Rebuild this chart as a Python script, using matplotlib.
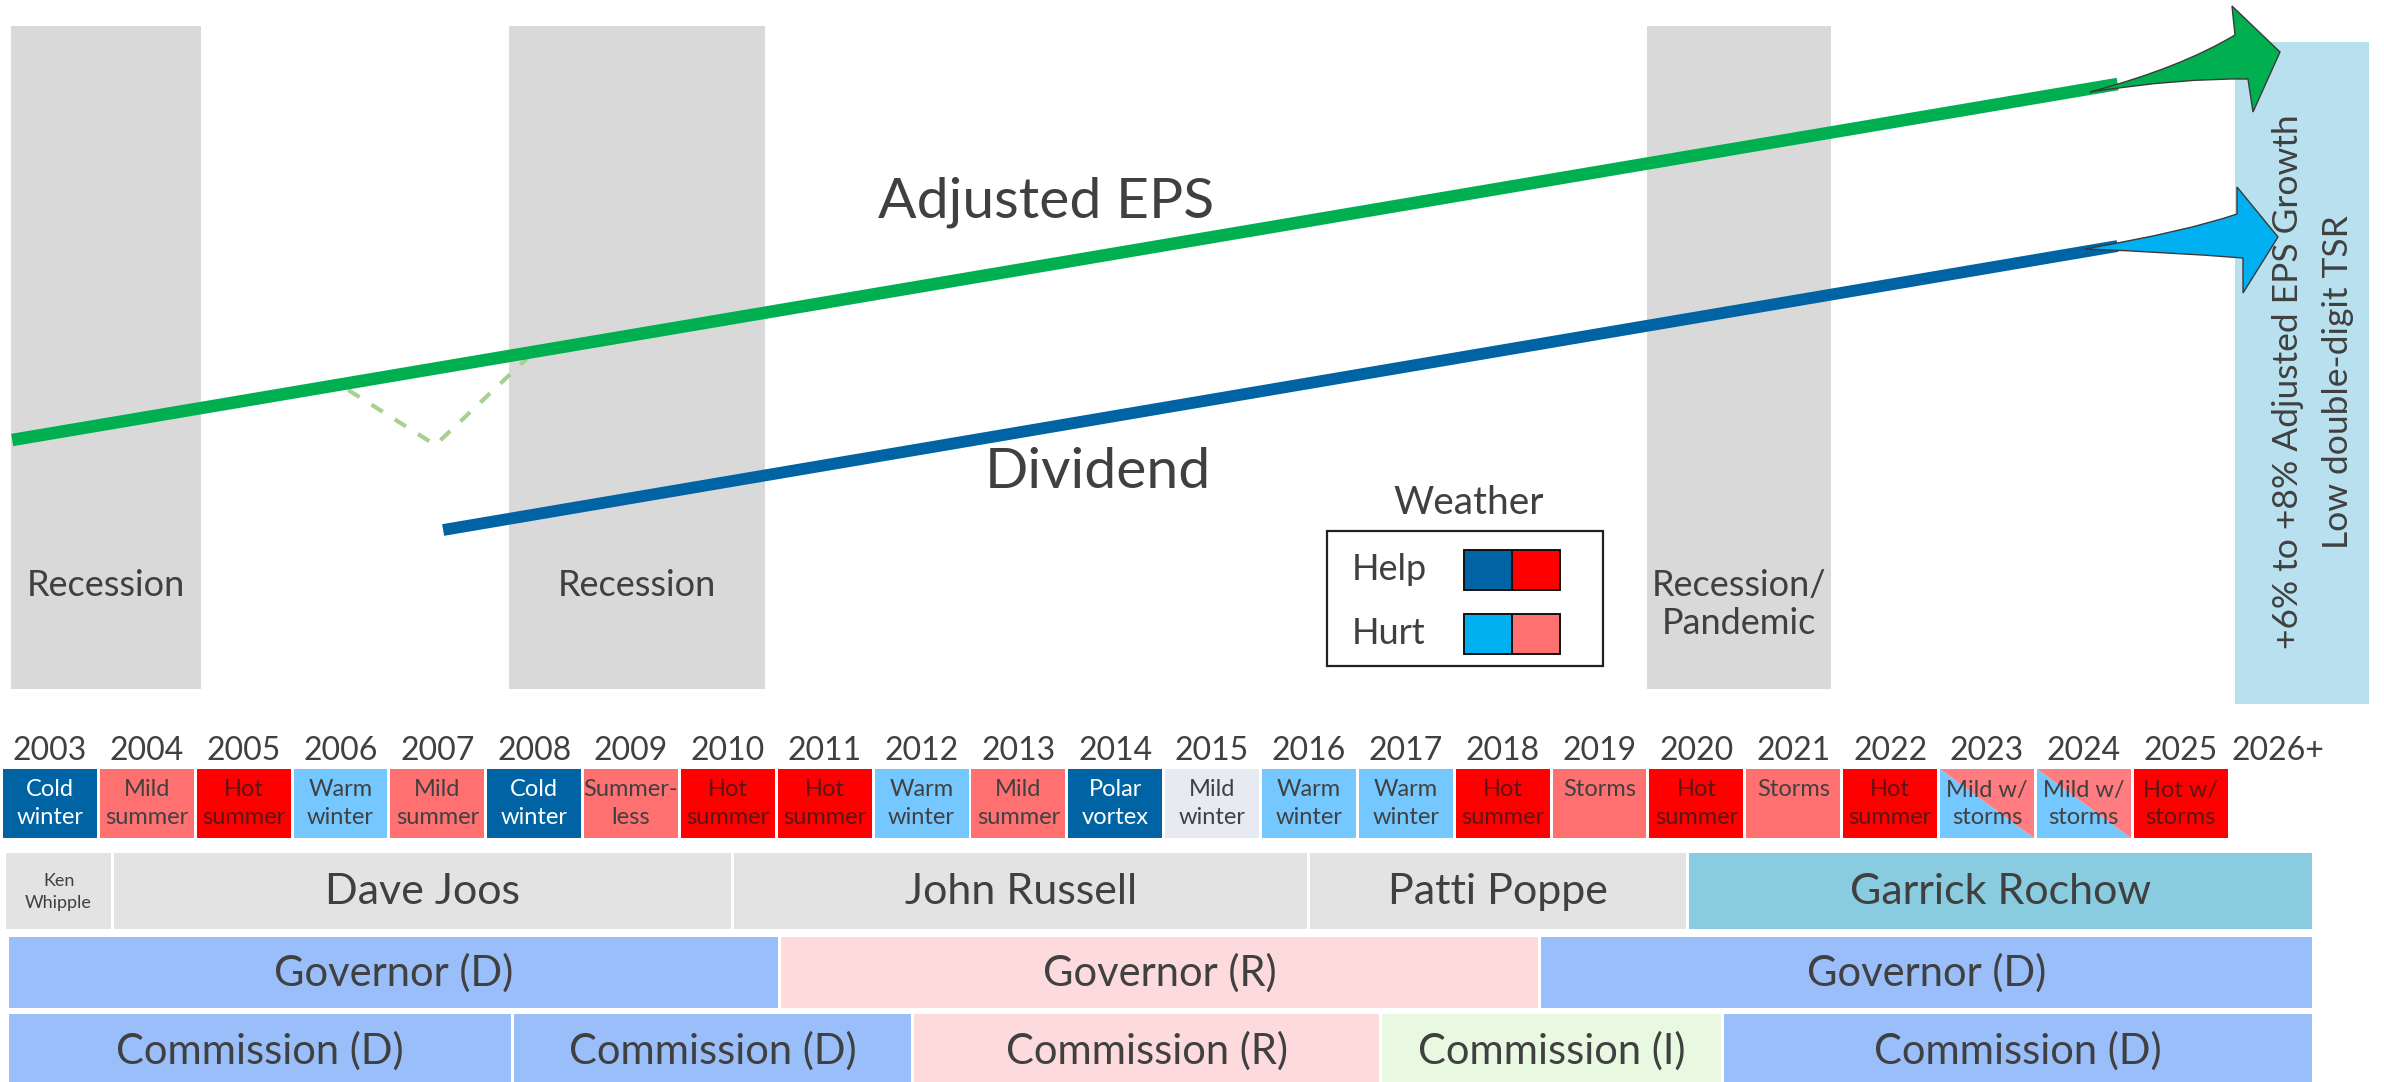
import matplotlib
matplotlib.use("Agg")

import matplotlib.pyplot as plt
from matplotlib              import font_manager
from matplotlib.patches      import Rectangle, Polygon, PathPatch
from matplotlib.path         import Path

# ==== DATA ================================================================== #

years = [str(y) for y in range(2003, 2026)] + ["2026+"]

weather_text = ["Cold\nwinter", "Mild\nsummer", "Hot\nsummer", "Warm\nwinter",
                "Mild\nsummer", "Cold\nwinter", "Summer-\nless", "Hot\nsummer",
                "Hot\nsummer", "Warm\nwinter", "Mild\nsummer", "Polar\nvortex",
                "Mild\nwinter", "Warm\nwinter", "Warm\nwinter", "Hot\nsummer",
                "Storms", "Hot\nsummer", "Storms", "Hot\nsummer",
                "Mild w/\nstorms", "Mild w/\nstorms", "Hot w/\nstorms"]
weather_kind = ["cold", "mild", "hot", "warm", "mild", "cold", "mild", "hot",
                "hot", "warm", "mild", "cold", "neutral", "warm", "warm", "hot",
                "mild", "hot", "mild", "hot", "split", "split", "hot"]

recession_label = ["Recession", "Recession", "Recession/\nPandemic"]
recession_start = [2003.10, 2008.24, 2019.99]
recession_end   = [2005.06, 2010.88, 2021.89]

ceo_names = ["Ken\nWhipple", "Dave Joos", "John Russell", "Patti Poppe",
             "Garrick Rochow"]
ceo_start = [2003.03, 2004.15, 2010.55, 2016.50, 2020.41]
ceo_end   = [2004.15, 2010.55, 2016.50, 2020.41, 2026.87]

gov_label = ["Governor (D)", "Governor (R)", "Governor (D)"]
gov_start = [2003.06, 2011.03, 2018.88]
gov_end   = [2011.03, 2018.88, 2026.87]

com_label = ["Commission (D)", "Commission (D)", "Commission (R)",
             "Commission (I)", "Commission (D)"]
com_start = [2003.06, 2008.28, 2012.41, 2017.24, 2020.77]
com_end   = [2008.28, 2012.41, 2017.24, 2020.77, 2026.87]

# trend lines (x in years, y in picture rows)
eps_x = [2003.11, 2024.85]
eps_y = [440, 84]
div_x = [2007.56, 2024.85]
div_y = [530, 246]
dip_x = [2006.58, 2007.48, 2008.43]
dip_y = [390, 445, 358]

outlook_lines = ["+6% to +8% Adjusted EPS Growth", "Low double-digit TSR"]

# ==== STYLE ================================================================= #

W, H  = 2384, 1082
PX    = 96.85                     # pixels per year
X0    = 2003 - 1.5 / PX
TXT   = "#404040"

names  = {f.name for f in font_manager.fontManager.ttflist}
MAIN   = "Lato" if "Lato" in names else "DejaVu Sans"

weather_color = {"cold": "#0063A3", "mild": "#FF7171", "hot": "#FF0000",
                 "warm": "#75C8FF", "neutral": "#E7EAF0"}
weather_tc    = {"cold": "white", "mild": TXT, "hot": "#5C1515",
                 "warm": TXT, "neutral": TXT, "split": TXT}
ceo_color = ["#E3E3E4"] * 4 + ["#89CCE0"]
gov_color = ["#99BEFA", "#FDDADC", "#99BEFA"]
com_color = ["#99BEFA", "#99BEFA", "#FDDADC", "#E8F8E1", "#99BEFA"]


def px(x):
    return X0 + x / PX


def band(ax, x0, x1, y0, y1, color, gap = 1.5):
    g = gap / PX
    ax.add_patch(Rectangle((x0 + g, y0), x1 - x0 - 2 * g, y1 - y0,
                           facecolor = color, edgecolor = "none", zorder = 1))


def arrow(ax, tx, ty, tail, c1, up, barb1, barb2, inner, c2, color):
    # offsets in pixels relative to the tip
    p = lambda d: (tx + d[0] / PX, ty + d[1])
    verts = [p(tail), p(c1), p(up), p(barb1), p((0, 0)), p(barb2), p(inner),
             p(c2), p(tail)]
    codes = [Path.MOVETO, Path.CURVE3, Path.CURVE3, Path.LINETO, Path.LINETO,
             Path.LINETO, Path.LINETO, Path.CURVE3, Path.CURVE3]
    ax.add_patch(PathPatch(Path(verts, codes), facecolor = color,
                           edgecolor = "#3A3A3A", lw = 1.0, zorder = 5))

# ==== PLOT ================================================================== #

fig = plt.figure(figsize = (W / 100, H / 100), dpi = 100)
ax  = fig.add_axes([0, 0, 1, 1])
ax.set_xlim(X0, X0 + W / PX)
ax.set_ylim(H, 0)
ax.axis("off")

# recession bands
for lab, a, b in zip(recession_label, recession_start, recession_end):
    ax.add_patch(Rectangle((a, 26), b - a, 663, facecolor = "#D9D9D9",
                           edgecolor = "none", zorder = 0))
    for k, s in enumerate(lab.split("\n")):
        ax.text((a + b) / 2, 586 + 38 * k, s, ha = "center", va = "center",
                fontsize = 26, color = TXT, family = MAIN, zorder = 2)

# outlook box
ax.add_patch(Rectangle((px(2235), 42), px(2369) - px(2235), 662,
                       facecolor = "#B8E0EE", edgecolor = "none", zorder = 0.5))
for k, s in enumerate(outlook_lines):
    ax.text(px(2288 + 50 * k), 382, s, rotation = 90, ha = "center",
            va = "center", fontsize = 25.5, color = TXT, family = MAIN,
            zorder = 6)

# trend lines
ax.plot(dip_x, dip_y, color = "#A9D18E", lw = 3, ls = (0, (3.2, 3.4)),
        solid_capstyle = "round", zorder = 2)
ax.plot(eps_x, eps_y, color = "#00B050", lw = 9, solid_capstyle = "butt",
        zorder = 3)
ax.plot(div_x, div_y, color = "#0063A3", lw = 8.5, solid_capstyle = "butt",
        zorder = 3)

arrow(ax, px(2280), 52, (-190, 40), (-100, 16), (-45, -17), (-48, -46),
      (-27, 60), (-32, 27), (-100, 26), "#00B050")
arrow(ax, px(2278), 237, (-193, 12), (-90, -6), (-41, -23), (-41, -50),
      (-35, 56), (-35, 21), (-110, 15), "#00B0F0")

ax.text(px(1046), 202, "Adjusted EPS", ha = "center", va = "center",
        fontsize = 41, color = TXT, family = MAIN, zorder = 6)
ax.text(px(1098), 473, "Dividend", ha = "center", va = "center",
        fontsize = 41, color = TXT, family = MAIN, zorder = 6)

# weather legend
ax.text(px(1469), 503, "Weather", ha = "center", va = "center", fontsize = 28,
        color = TXT, family = MAIN)
ax.add_patch(Rectangle((px(1327), 531), (1603 - 1327) / PX, 135,
                       facecolor = "white", edgecolor = "#222222", lw = 1.6,
                       zorder = 4))
for k, (lab, c1, c2) in enumerate([("Help", "#0063A3", "#FF0000"),
                                   ("Hurt", "#00B0F0", "#FF7171")]):
    y0 = 550 + 64 * k
    ax.text(px(1352), y0 + 20, lab, ha = "left", va = "center", fontsize = 26,
            color = TXT, family = MAIN, zorder = 5)
    for j, c in enumerate((c1, c2)):
        ax.add_patch(Rectangle((px(1464 + 48 * j), y0), 48 / PX, 40,
                               facecolor = c, edgecolor = "#111111", lw = 1.4,
                               zorder = 5))

# year labels
for i, y in enumerate(years):
    ax.text(2003 + i + 0.5, 751, y, ha = "center", va = "center",
            fontsize = 23, color = TXT, family = MAIN)

# weather row
for i, (lab, kind) in enumerate(zip(weather_text, weather_kind)):
    x0, x1 = 2003 + i + 0.015, 2003 + i + 0.985
    y0, y1 = 769, 838
    if kind == "split":
        ax.add_patch(Polygon([(x0, y0), (x0, y1), (x1, y1)], closed = True,
                             facecolor = "#75C8FF", edgecolor = "none"))
        ax.add_patch(Polygon([(x0, y0), (x1, y0), (x1, y1)], closed = True,
                             facecolor = "#FF7C80", edgecolor = "none"))
    else:
        ax.add_patch(Rectangle((x0, y0), x1 - x0, y1 - y0,
                               facecolor = weather_color[kind],
                               edgecolor = "none"))
    for k, s in enumerate(lab.split("\n")):
        ax.text(2003 + i + 0.5, 790 + 27 * k, s, ha = "center", va = "center",
                fontsize = 17, color = weather_tc[kind], family = MAIN,
                zorder = 3)

# CEO row
for lab, a, b, c in zip(ceo_names, ceo_start, ceo_end, ceo_color):
    band(ax, a, b, 853, 929, c)
    if "\n" in lab:
        for k, s in enumerate(lab.split("\n")):
            ax.text((a + b) / 2, 881 + 22 * k, s, ha = "center",
                    va = "center", fontsize = 13, color = TXT, family = MAIN,
                    zorder = 3)
    else:
        ax.text((a + b) / 2, 892, lab, ha = "center", va = "center",
                fontsize = 31, color = TXT, family = MAIN, zorder = 3)

# governor row
for lab, a, b, c in zip(gov_label, gov_start, gov_end, gov_color):
    band(ax, a, b, 937, 1008, c)
    ax.text((a + b) / 2, 973, lab, ha = "center", va = "center",
            fontsize = 30, color = TXT, family = MAIN, zorder = 3)

# commission row
for lab, a, b, c in zip(com_label, com_start, com_end, com_color):
    band(ax, a, b, 1014, 1082, c)
    ax.text((a + b) / 2, 1051, lab, ha = "center", va = "center",
            fontsize = 30, color = TXT, family = MAIN, zorder = 3)

fig.savefig("out.png", dpi = 100)
